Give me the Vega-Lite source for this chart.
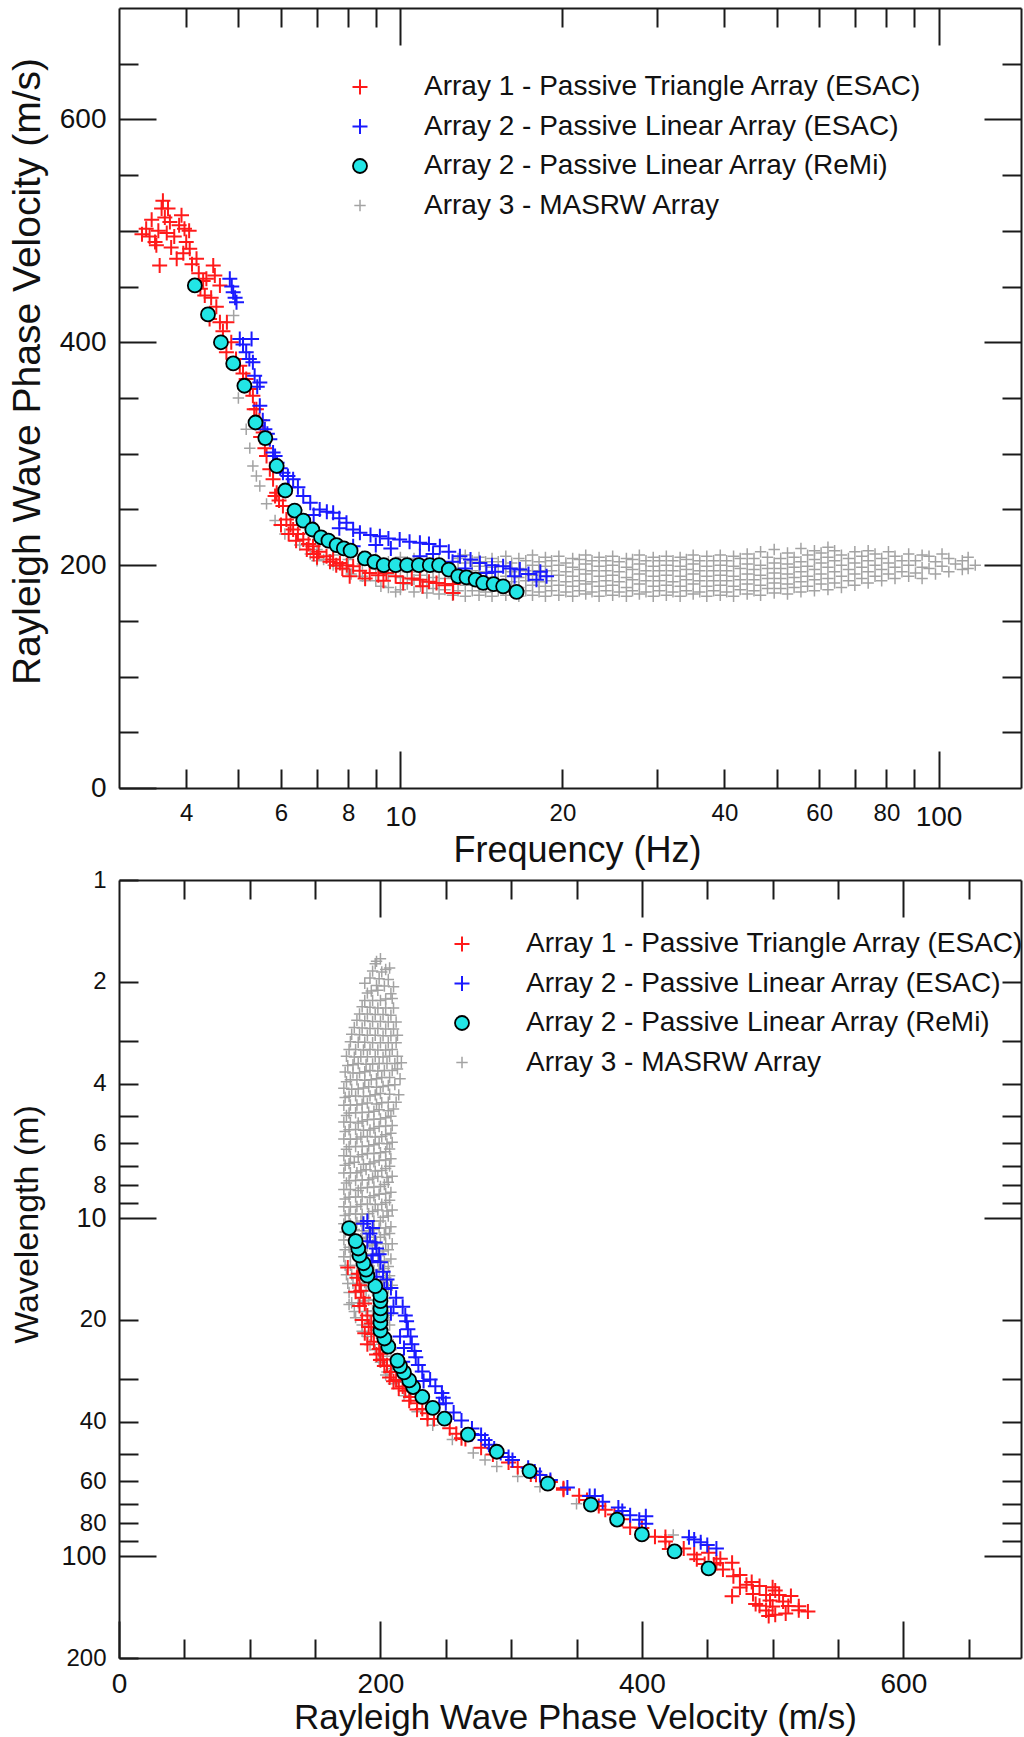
{
"$schema":"https://vega.github.io/schema/vega-lite/v6.json",
"autosize":{"type":"pad"},
"padding":{"left":8,"top":7,"right":0,"bottom":0},
"background":"white",
"spacing":92,
"bounds":"flush",
"config":{"view":{"stroke":null},"font":"Liberation Sans",
"axis":{"labelFont":"Liberation Sans","titleFont":"Liberation Sans","labelColor":"#111","titleColor":"#111","domainColor":"#1a1a1a","tickColor":"#1a1a1a","domainWidth":2,"tickWidth":2,"grid":false,"labelFlush":false,"labelOverlap":false,"labelBound":false,"titleFontWeight":"normal"},
"legend":{"labelFont":"Liberation Sans"}},
"resolve":{"scale":{"fill":"independent","stroke":"independent","shape":"independent","size":"independent","strokeWidth":"independent"}},
"datasets":{"d":[
{"s":"A3","f":4.9,"v":424,"w":86.5},{"s":"A3","f":5.0,"v":350,"w":70.0},{"s":"A3","f":5.17,"v":322,"w":62.3},{"s":"A3","f":5.25,"v":305,"w":58.1},{"s":"A3","f":5.32,"v":289,"w":54.3},{"s":"A3","f":5.4,"v":280,"w":51.9},{"s":"A3","f":5.48,"v":271,"w":49.5},{"s":"A3","f":5.64,"v":255,"w":45.2},{"s":"A3","f":5.85,"v":240,"w":41.0},{"s":"A3","f":6.1,"v":228,"w":37.4},{"s":"A3","f":6.5,"v":218,"w":33.5},{"s":"A3","f":6.8,"v":210,"w":30.9},{"s":"A3","f":7.2,"v":205,"w":28.5},{"s":"A3","f":7.6,"v":199,"w":26.2},{"s":"A3","f":8.1,"v":192,"w":23.7},{"s":"A3","f":8.6,"v":186,"w":21.6},{"s":"A3","f":9.2,"v":181,"w":19.7},{"s":"A3","f":9.8,"v":176,"w":18.0},
{"s":"A3","f":7.0,"v":204,"w":29.1},{"s":"A3","f":7.0,"v":214,"w":30.6},
{"s":"A3","f":7.5,"v":200,"w":26.7},{"s":"A3","f":7.5,"v":209,"w":27.9},
{"s":"A3","f":8.0,"v":196,"w":24.5},{"s":"A3","f":8.0,"v":205,"w":25.6},
{"s":"A3","f":8.5,"v":190,"w":22.4},{"s":"A3","f":8.5,"v":201,"w":23.6},{"s":"A3","f":8.5,"v":208,"w":24.5},
{"s":"A3","f":9.0,"v":186,"w":20.7},{"s":"A3","f":9.0,"v":197,"w":21.9},{"s":"A3","f":9.0,"v":206,"w":22.9},
{"s":"A3","f":9.5,"v":180,"w":18.9},{"s":"A3","f":9.5,"v":192,"w":20.2},{"s":"A3","f":9.5,"v":203,"w":21.4},
{"s":"A3","f":10,"v":178,"w":17.8},{"s":"A3","f":10,"v":189,"w":18.9},{"s":"A3","f":10,"v":199,"w":19.9},{"s":"A3","f":10,"v":207,"w":20.7},
{"s":"A3","f":10.3,"v":183,"w":17.8},{"s":"A3","f":10.3,"v":194,"w":18.8},{"s":"A3","f":10.3,"v":203,"w":19.7},
{"s":"A3","f":10.6,"v":176,"w":16.6},{"s":"A3","f":10.6,"v":187,"w":17.6},{"s":"A3","f":10.6,"v":198,"w":18.7},{"s":"A3","f":10.6,"v":206,"w":19.4},
{"s":"A3","f":10.9,"v":181,"w":16.6},{"s":"A3","f":10.9,"v":191,"w":17.5},{"s":"A3","f":10.9,"v":201,"w":18.4},
{"s":"A3","f":11.2,"v":175,"w":15.6},{"s":"A3","f":11.2,"v":185,"w":16.5},{"s":"A3","f":11.2,"v":195,"w":17.4},{"s":"A3","f":11.2,"v":205,"w":18.3},
{"s":"A3","f":11.5,"v":179,"w":15.6},{"s":"A3","f":11.5,"v":189,"w":16.4},{"s":"A3","f":11.5,"v":199,"w":17.3},
{"s":"A3","f":11.8,"v":174,"w":14.7},{"s":"A3","f":11.8,"v":184,"w":15.6},{"s":"A3","f":11.8,"v":194,"w":16.4},{"s":"A3","f":11.8,"v":204,"w":17.3},
{"s":"A3","f":12.1,"v":178,"w":14.7},{"s":"A3","f":12.1,"v":188,"w":15.5},{"s":"A3","f":12.1,"v":198,"w":16.4},
{"s":"A3","f":12.5,"v":173,"w":13.8},{"s":"A3","f":12.5,"v":183,"w":14.6},{"s":"A3","f":12.5,"v":193,"w":15.4},{"s":"A3","f":12.5,"v":203,"w":16.2},
{"s":"A3","f":12.8,"v":177,"w":13.8},{"s":"A3","f":12.8,"v":187,"w":14.6},{"s":"A3","f":12.8,"v":197,"w":15.4},{"s":"A3","f":12.8,"v":206,"w":16.1},
{"s":"A3","f":13.2,"v":172,"w":13.0},{"s":"A3","f":13.2,"v":182,"w":13.8},{"s":"A3","f":13.2,"v":192,"w":14.5},{"s":"A3","f":13.2,"v":202,"w":15.3},{"s":"A3","f":13.2,"v":209,"w":15.8},
{"s":"A3","f":13.6,"v":177,"w":13.0},{"s":"A3","f":13.6,"v":186,"w":13.7},{"s":"A3","f":13.6,"v":195,"w":14.3},{"s":"A3","f":13.6,"v":204,"w":15.0},
{"s":"A3","f":14.0,"v":173,"w":12.4},{"s":"A3","f":14.0,"v":181,"w":12.9},{"s":"A3","f":14.0,"v":190,"w":13.6},{"s":"A3","f":14.0,"v":199,"w":14.2},{"s":"A3","f":14.0,"v":207,"w":14.8},
{"s":"A3","f":14.4,"v":176,"w":12.2},{"s":"A3","f":14.4,"v":185,"w":12.8},{"s":"A3","f":14.4,"v":194,"w":13.5},{"s":"A3","f":14.4,"v":203,"w":14.1},
{"s":"A3","f":14.8,"v":172,"w":11.6},{"s":"A3","f":14.8,"v":180,"w":12.2},{"s":"A3","f":14.8,"v":189,"w":12.8},{"s":"A3","f":14.8,"v":198,"w":13.4},{"s":"A3","f":14.8,"v":206,"w":13.9},
{"s":"A3","f":15.2,"v":177,"w":11.6},{"s":"A3","f":15.2,"v":185,"w":12.2},{"s":"A3","f":15.2,"v":194,"w":12.8},{"s":"A3","f":15.2,"v":203,"w":13.4},
{"s":"A3","f":15.7,"v":173,"w":11.0},{"s":"A3","f":15.7,"v":181,"w":11.5},{"s":"A3","f":15.7,"v":190,"w":12.1},{"s":"A3","f":15.7,"v":199,"w":12.7},{"s":"A3","f":15.7,"v":208,"w":13.2},
{"s":"A3","f":16.1,"v":176,"w":10.9},{"s":"A3","f":16.1,"v":185,"w":11.5},{"s":"A3","f":16.1,"v":194,"w":12.0},{"s":"A3","f":16.1,"v":202,"w":12.5},
{"s":"A3","f":16.6,"v":172,"w":10.4},{"s":"A3","f":16.6,"v":180,"w":10.8},{"s":"A3","f":16.6,"v":189,"w":11.4},{"s":"A3","f":16.6,"v":197,"w":11.9},{"s":"A3","f":16.6,"v":206,"w":12.4},
{"s":"A3","f":17.1,"v":177,"w":10.4},{"s":"A3","f":17.1,"v":186,"w":10.9},{"s":"A3","f":17.1,"v":195,"w":11.4},{"s":"A3","f":17.1,"v":204,"w":11.9},
{"s":"A3","f":17.6,"v":173,"w":9.83},{"s":"A3","f":17.6,"v":182,"w":10.3},{"s":"A3","f":17.6,"v":191,"w":10.9},{"s":"A3","f":17.6,"v":200,"w":11.4},{"s":"A3","f":17.6,"v":209,"w":11.9},
{"s":"A3","f":18.1,"v":176,"w":9.72},{"s":"A3","f":18.1,"v":185,"w":10.2},{"s":"A3","f":18.1,"v":195,"w":10.8},{"s":"A3","f":18.1,"v":203,"w":11.2},
{"s":"A3","f":18.6,"v":172,"w":9.25},{"s":"A3","f":18.6,"v":181,"w":9.73},{"s":"A3","f":18.6,"v":190,"w":10.2},{"s":"A3","f":18.6,"v":199,"w":10.7},{"s":"A3","f":18.6,"v":207,"w":11.1},
{"s":"A3","f":19.1,"v":177,"w":9.27},{"s":"A3","f":19.1,"v":186,"w":9.74},{"s":"A3","f":19.1,"v":195,"w":10.2},{"s":"A3","f":19.1,"v":204,"w":10.7},
{"s":"A3","f":19.7,"v":173,"w":8.78},{"s":"A3","f":19.7,"v":182,"w":9.24},{"s":"A3","f":19.7,"v":191,"w":9.70},{"s":"A3","f":19.7,"v":200,"w":10.2},{"s":"A3","f":19.7,"v":208,"w":10.6},
{"s":"A3","f":20.3,"v":176,"w":8.67},{"s":"A3","f":20.3,"v":185,"w":9.11},{"s":"A3","f":20.3,"v":194,"w":9.56},{"s":"A3","f":20.3,"v":202,"w":9.95},
{"s":"A3","f":20.9,"v":172,"w":8.23},{"s":"A3","f":20.9,"v":181,"w":8.66},{"s":"A3","f":20.9,"v":190,"w":9.09},{"s":"A3","f":20.9,"v":198,"w":9.47},{"s":"A3","f":20.9,"v":206,"w":9.86},
{"s":"A3","f":21.5,"v":177,"w":8.23},{"s":"A3","f":21.5,"v":186,"w":8.65},{"s":"A3","f":21.5,"v":196,"w":9.12},{"s":"A3","f":21.5,"v":205,"w":9.53},
{"s":"A3","f":22.1,"v":174,"w":7.87},{"s":"A3","f":22.1,"v":183,"w":8.28},{"s":"A3","f":22.1,"v":192,"w":8.69},{"s":"A3","f":22.1,"v":201,"w":9.10},{"s":"A3","f":22.1,"v":209,"w":9.46},
{"s":"A3","f":22.7,"v":176,"w":7.75},{"s":"A3","f":22.7,"v":185,"w":8.15},{"s":"A3","f":22.7,"v":195,"w":8.59},{"s":"A3","f":22.7,"v":204,"w":8.99},
{"s":"A3","f":23.4,"v":172,"w":7.35},{"s":"A3","f":23.4,"v":181,"w":7.74},{"s":"A3","f":23.4,"v":190,"w":8.12},{"s":"A3","f":23.4,"v":199,"w":8.50},{"s":"A3","f":23.4,"v":207,"w":8.85},
{"s":"A3","f":24.1,"v":177,"w":7.34},{"s":"A3","f":24.1,"v":186,"w":7.72},{"s":"A3","f":24.1,"v":195,"w":8.09},{"s":"A3","f":24.1,"v":204,"w":8.46},
{"s":"A3","f":24.8,"v":173,"w":6.98},{"s":"A3","f":24.8,"v":182,"w":7.34},{"s":"A3","f":24.8,"v":191,"w":7.70},{"s":"A3","f":24.8,"v":200,"w":8.06},{"s":"A3","f":24.8,"v":208,"w":8.39},
{"s":"A3","f":25.5,"v":176,"w":6.90},{"s":"A3","f":25.5,"v":185,"w":7.25},{"s":"A3","f":25.5,"v":194,"w":7.61},{"s":"A3","f":25.5,"v":203,"w":7.96},
{"s":"A3","f":26.3,"v":172,"w":6.54},{"s":"A3","f":26.3,"v":180,"w":6.84},{"s":"A3","f":26.3,"v":189,"w":7.19},{"s":"A3","f":26.3,"v":198,"w":7.53},{"s":"A3","f":26.3,"v":206,"w":7.83},
{"s":"A3","f":27.0,"v":177,"w":6.56},{"s":"A3","f":27.0,"v":187,"w":6.93},{"s":"A3","f":27.0,"v":196,"w":7.26},{"s":"A3","f":27.0,"v":205,"w":7.59},
{"s":"A3","f":27.8,"v":174,"w":6.26},{"s":"A3","f":27.8,"v":183,"w":6.58},{"s":"A3","f":27.8,"v":192,"w":6.91},{"s":"A3","f":27.8,"v":201,"w":7.23},{"s":"A3","f":27.8,"v":209,"w":7.52},
{"s":"A3","f":28.6,"v":176,"w":6.15},{"s":"A3","f":28.6,"v":186,"w":6.50},{"s":"A3","f":28.6,"v":195,"w":6.82},{"s":"A3","f":28.6,"v":204,"w":7.13},
{"s":"A3","f":29.5,"v":172,"w":5.83},{"s":"A3","f":29.5,"v":181,"w":6.14},{"s":"A3","f":29.5,"v":190,"w":6.44},{"s":"A3","f":29.5,"v":199,"w":6.75},{"s":"A3","f":29.5,"v":207,"w":7.02},
{"s":"A3","f":30.3,"v":177,"w":5.84},{"s":"A3","f":30.3,"v":186,"w":6.14},{"s":"A3","f":30.3,"v":195,"w":6.44},{"s":"A3","f":30.3,"v":204,"w":6.73},
{"s":"A3","f":31.2,"v":173,"w":5.54},{"s":"A3","f":31.2,"v":182,"w":5.83},{"s":"A3","f":31.2,"v":191,"w":6.12},{"s":"A3","f":31.2,"v":200,"w":6.41},{"s":"A3","f":31.2,"v":208,"w":6.67},
{"s":"A3","f":32.1,"v":176,"w":5.48},{"s":"A3","f":32.1,"v":185,"w":5.76},{"s":"A3","f":32.1,"v":195,"w":6.07},{"s":"A3","f":32.1,"v":204,"w":6.36},
{"s":"A3","f":33.1,"v":172,"w":5.20},{"s":"A3","f":33.1,"v":181,"w":5.47},{"s":"A3","f":33.1,"v":190,"w":5.74},{"s":"A3","f":33.1,"v":199,"w":6.01},{"s":"A3","f":33.1,"v":207,"w":6.25},
{"s":"A3","f":34.0,"v":177,"w":5.21},{"s":"A3","f":34.0,"v":187,"w":5.50},{"s":"A3","f":34.0,"v":196,"w":5.76},{"s":"A3","f":34.0,"v":205,"w":6.03},
{"s":"A3","f":35.0,"v":174,"w":4.97},{"s":"A3","f":35.0,"v":183,"w":5.23},{"s":"A3","f":35.0,"v":192,"w":5.49},{"s":"A3","f":35.0,"v":201,"w":5.74},{"s":"A3","f":35.0,"v":209,"w":5.97},
{"s":"A3","f":36.0,"v":176,"w":4.89},{"s":"A3","f":36.0,"v":186,"w":5.17},{"s":"A3","f":36.0,"v":195,"w":5.42},{"s":"A3","f":36.0,"v":204,"w":5.67},
{"s":"A3","f":37.1,"v":172,"w":4.64},{"s":"A3","f":37.1,"v":181,"w":4.88},{"s":"A3","f":37.1,"v":190,"w":5.12},{"s":"A3","f":37.1,"v":199,"w":5.36},{"s":"A3","f":37.1,"v":208,"w":5.61},
{"s":"A3","f":38.2,"v":177,"w":4.63},{"s":"A3","f":38.2,"v":186,"w":4.87},{"s":"A3","f":38.2,"v":195,"w":5.10},{"s":"A3","f":38.2,"v":204,"w":5.34},
{"s":"A3","f":39.3,"v":173,"w":4.40},{"s":"A3","f":39.3,"v":182,"w":4.63},{"s":"A3","f":39.3,"v":191,"w":4.86},{"s":"A3","f":39.3,"v":200,"w":5.09},{"s":"A3","f":39.3,"v":209,"w":5.32},
{"s":"A3","f":40.4,"v":176,"w":4.36},{"s":"A3","f":40.4,"v":186,"w":4.60},{"s":"A3","f":40.4,"v":195,"w":4.83},{"s":"A3","f":40.4,"v":204,"w":5.05},
{"s":"A3","f":41.6,"v":172,"w":4.13},{"s":"A3","f":41.6,"v":181,"w":4.35},{"s":"A3","f":41.6,"v":190,"w":4.57},{"s":"A3","f":41.6,"v":199,"w":4.78},{"s":"A3","f":41.6,"v":208,"w":5.00},
{"s":"A3","f":42.8,"v":178,"w":4.16},{"s":"A3","f":42.8,"v":187,"w":4.37},{"s":"A3","f":42.8,"v":197,"w":4.60},{"s":"A3","f":42.8,"v":206,"w":4.81},
{"s":"A3","f":44.1,"v":174,"w":3.95},{"s":"A3","f":44.1,"v":183,"w":4.15},{"s":"A3","f":44.1,"v":192,"w":4.35},{"s":"A3","f":44.1,"v":201,"w":4.56},{"s":"A3","f":44.1,"v":210,"w":4.76},
{"s":"A3","f":45.4,"v":177,"w":3.90},{"s":"A3","f":45.4,"v":187,"w":4.12},{"s":"A3","f":45.4,"v":196,"w":4.32},{"s":"A3","f":45.4,"v":206,"w":4.54},
{"s":"A3","f":46.7,"v":173,"w":3.70},{"s":"A3","f":46.7,"v":182,"w":3.90},{"s":"A3","f":46.7,"v":191,"w":4.09},{"s":"A3","f":46.7,"v":200,"w":4.28},{"s":"A3","f":46.7,"v":212,"w":4.54},
{"s":"A3","f":48.1,"v":179,"w":3.72},{"s":"A3","f":48.1,"v":188,"w":3.91},{"s":"A3","f":48.1,"v":197,"w":4.10},{"s":"A3","f":48.1,"v":207,"w":4.30},
{"s":"A3","f":49.5,"v":175,"w":3.54},{"s":"A3","f":49.5,"v":184,"w":3.72},{"s":"A3","f":49.5,"v":193,"w":3.90},{"s":"A3","f":49.5,"v":202,"w":4.08},{"s":"A3","f":49.5,"v":214,"w":4.32},
{"s":"A3","f":50.9,"v":179,"w":3.52},{"s":"A3","f":50.9,"v":188,"w":3.69},{"s":"A3","f":50.9,"v":197,"w":3.87},{"s":"A3","f":50.9,"v":206,"w":4.05},
{"s":"A3","f":52.4,"v":174,"w":3.32},{"s":"A3","f":52.4,"v":183,"w":3.49},{"s":"A3","f":52.4,"v":192,"w":3.66},{"s":"A3","f":52.4,"v":201,"w":3.84},{"s":"A3","f":52.4,"v":211,"w":4.03},
{"s":"A3","f":53.9,"v":180,"w":3.34},{"s":"A3","f":53.9,"v":189,"w":3.51},{"s":"A3","f":53.9,"v":198,"w":3.67},{"s":"A3","f":53.9,"v":207,"w":3.84},
{"s":"A3","f":55.5,"v":176,"w":3.17},{"s":"A3","f":55.5,"v":185,"w":3.33},{"s":"A3","f":55.5,"v":194,"w":3.50},{"s":"A3","f":55.5,"v":203,"w":3.66},{"s":"A3","f":55.5,"v":215,"w":3.87},
{"s":"A3","f":57.1,"v":181,"w":3.17},{"s":"A3","f":57.1,"v":190,"w":3.33},{"s":"A3","f":57.1,"v":199,"w":3.49},{"s":"A3","f":57.1,"v":209,"w":3.66},
{"s":"A3","f":58.8,"v":177,"w":3.01},{"s":"A3","f":58.8,"v":187,"w":3.18},{"s":"A3","f":58.8,"v":196,"w":3.33},{"s":"A3","f":58.8,"v":205,"w":3.49},{"s":"A3","f":58.8,"v":213,"w":3.62},
{"s":"A3","f":60.5,"v":183,"w":3.02},{"s":"A3","f":60.5,"v":192,"w":3.17},{"s":"A3","f":60.5,"v":202,"w":3.34},{"s":"A3","f":60.5,"v":211,"w":3.49},
{"s":"A3","f":62.3,"v":178,"w":2.86},{"s":"A3","f":62.3,"v":188,"w":3.02},{"s":"A3","f":62.3,"v":198,"w":3.18},{"s":"A3","f":62.3,"v":207,"w":3.32},{"s":"A3","f":62.3,"v":216,"w":3.47},
{"s":"A3","f":64.1,"v":184,"w":2.87},{"s":"A3","f":64.1,"v":194,"w":3.03},{"s":"A3","f":64.1,"v":204,"w":3.18},{"s":"A3","f":64.1,"v":213,"w":3.32},
{"s":"A3","f":66.0,"v":180,"w":2.73},{"s":"A3","f":66.0,"v":190,"w":2.88},{"s":"A3","f":66.0,"v":200,"w":3.03},{"s":"A3","f":66.0,"v":209,"w":3.17},
{"s":"A3","f":68.0,"v":186,"w":2.74},{"s":"A3","f":68.0,"v":196,"w":2.88},{"s":"A3","f":68.0,"v":206,"w":3.03},
{"s":"A3","f":69.9,"v":182,"w":2.60},{"s":"A3","f":69.9,"v":192,"w":2.75},{"s":"A3","f":69.9,"v":202,"w":2.89},{"s":"A3","f":69.9,"v":212,"w":3.03},
{"s":"A3","f":72.0,"v":188,"w":2.61},{"s":"A3","f":72.0,"v":198,"w":2.75},{"s":"A3","f":72.0,"v":208,"w":2.89},
{"s":"A3","f":74.0,"v":184,"w":2.49},{"s":"A3","f":74.0,"v":194,"w":2.62},{"s":"A3","f":74.0,"v":204,"w":2.76},{"s":"A3","f":74.0,"v":213,"w":2.88},
{"s":"A3","f":76.2,"v":190,"w":2.49},{"s":"A3","f":76.2,"v":200,"w":2.62},{"s":"A3","f":76.2,"v":210,"w":2.76},
{"s":"A3","f":78.4,"v":186,"w":2.37},{"s":"A3","f":78.4,"v":196,"w":2.50},{"s":"A3","f":78.4,"v":206,"w":2.63},
{"s":"A3","f":80.7,"v":192,"w":2.38},{"s":"A3","f":80.7,"v":202,"w":2.50},{"s":"A3","f":80.7,"v":212,"w":2.63},
{"s":"A3","f":83.0,"v":188,"w":2.27},{"s":"A3","f":83.0,"v":198,"w":2.39},{"s":"A3","f":83.0,"v":208,"w":2.51},
{"s":"A3","f":85.5,"v":194,"w":2.27},{"s":"A3","f":85.5,"v":204,"w":2.39},
{"s":"A3","f":88.0,"v":190,"w":2.16},{"s":"A3","f":88.0,"v":200,"w":2.27},{"s":"A3","f":88.0,"v":210,"w":2.39},
{"s":"A3","f":90.6,"v":193,"w":2.13},{"s":"A3","f":90.6,"v":204,"w":2.25},
{"s":"A3","f":93.2,"v":188,"w":2.02},{"s":"A3","f":93.2,"v":198,"w":2.12},{"s":"A3","f":93.2,"v":209,"w":2.24},
{"s":"A3","f":96.0,"v":197,"w":2.05},{"s":"A3","f":96.0,"v":208,"w":2.17},
{"s":"A3","f":98.7,"v":192,"w":1.95},{"s":"A3","f":98.7,"v":203,"w":2.06},
{"s":"A3","f":101.5,"v":199,"w":1.96},{"s":"A3","f":101.5,"v":210,"w":2.07},
{"s":"A3","f":104.5,"v":194,"w":1.86},{"s":"A3","f":104.5,"v":206,"w":1.97},
{"s":"A3","f":107.5,"v":201,"w":1.87},
{"s":"A3","f":110.7,"v":196,"w":1.77},{"s":"A3","f":110.7,"v":204,"w":1.84},
{"s":"A3","f":113.5,"v":197,"w":1.74},{"s":"A3","f":113.5,"v":207,"w":1.82},
{"s":"A3","f":117.0,"v":200,"w":1.71},
{"s":"A1","f":3.31,"v":497,"w":150.2},{"s":"A1","f":3.37,"v":502,"w":149.0},{"s":"A1","f":3.42,"v":495,"w":144.7},{"s":"A1","f":3.45,"v":510,"w":147.8},{"s":"A1","f":3.50,"v":490,"w":140.0},{"s":"A1","f":3.52,"v":487,"w":138.4},{"s":"A1","f":3.55,"v":500,"w":140.8},{"s":"A1","f":3.57,"v":469,"w":131.4},{"s":"A1","f":3.60,"v":520,"w":144.4},{"s":"A1","f":3.62,"v":527,"w":145.6},{"s":"A1","f":3.65,"v":512,"w":140.3},{"s":"A1","f":3.68,"v":498,"w":135.3},{"s":"A1","f":3.70,"v":520,"w":140.5},{"s":"A1","f":3.73,"v":508,"w":136.2},{"s":"A1","f":3.75,"v":485,"w":129.3},{"s":"A1","f":3.80,"v":495,"w":130.3},{"s":"A1","f":3.84,"v":475,"w":123.7},{"s":"A1","f":3.88,"v":505,"w":130.2},{"s":"A1","f":3.92,"v":514,"w":131.1},{"s":"A1","f":3.95,"v":480,"w":121.5},{"s":"A1","f":3.97,"v":502,"w":126.4},{"s":"A1","f":4.00,"v":490,"w":122.5},{"s":"A1","f":4.05,"v":500,"w":123.5},{"s":"A1","f":4.06,"v":484,"w":119.2},{"s":"A1","f":4.10,"v":470,"w":114.6},{"s":"A1","f":4.18,"v":475,"w":113.6},{"s":"A1","f":4.22,"v":462,"w":109.5},{"s":"A1","f":4.25,"v":448,"w":105.4},{"s":"A1","f":4.30,"v":455,"w":105.8},{"s":"A1","f":4.33,"v":442,"w":102.1},{"s":"A1","f":4.36,"v":457,"w":104.8},{"s":"A1","f":4.42,"v":421,"w":95.2},{"s":"A1","f":4.45,"v":440,"w":98.9},{"s":"A1","f":4.49,"v":469,"w":104.5},{"s":"A1","f":4.52,"v":460,"w":101.8},{"s":"A1","f":4.55,"v":432,"w":94.9},{"s":"A1","f":4.62,"v":451,"w":97.6},{"s":"A1","f":4.62,"v":418,"w":90.5},{"s":"A1","f":4.68,"v":410,"w":87.6},{"s":"A1","f":4.76,"v":418,"w":87.8},{"s":"A1","f":4.75,"v":391,"w":82.3},{"s":"A1","f":4.85,"v":400,"w":82.5},{"s":"A1","f":4.95,"v":385,"w":77.8},{"s":"A1","f":5.03,"v":379,"w":75.3},{"s":"A1","f":5.10,"v":372,"w":72.9},{"s":"A1","f":5.17,"v":367,"w":71.0},{"s":"A1","f":5.25,"v":358,"w":68.2},{"s":"A1","f":5.32,"v":352,"w":66.2},{"s":"A1","f":5.35,"v":340,"w":63.6},{"s":"A1","f":5.40,"v":340,"w":63.0},{"s":"A1","f":5.47,"v":330,"w":60.3},{"s":"A1","f":5.50,"v":315,"w":57.3},{"s":"A1","f":5.56,"v":319,"w":57.4},{"s":"A1","f":5.60,"v":305,"w":54.5},{"s":"A1","f":5.64,"v":298,"w":52.8},{"s":"A1","f":5.72,"v":286,"w":50.0},{"s":"A1","f":5.80,"v":277,"w":47.8},{"s":"A1","f":5.85,"v":262,"w":44.8},{"s":"A1","f":5.89,"v":265,"w":45.0},{"s":"A1","f":5.95,"v":258,"w":43.4},{"s":"A1","f":6.00,"v":236,"w":39.3},{"s":"A1","f":6.05,"v":253,"w":41.8},{"s":"A1","f":6.14,"v":241,"w":39.3},{"s":"A1","f":6.20,"v":228,"w":36.8},{"s":"A1","f":6.25,"v":236,"w":37.8},{"s":"A1","f":6.32,"v":232,"w":36.7},{"s":"A1","f":6.40,"v":222,"w":34.7},{"s":"A1","f":6.45,"v":228,"w":35.3},{"s":"A1","f":6.60,"v":223,"w":33.8},{"s":"A1","f":6.70,"v":214,"w":31.9},{"s":"A1","f":6.75,"v":219,"w":32.4},{"s":"A1","f":6.88,"v":217,"w":31.5},{"s":"A1","f":6.90,"v":210,"w":30.4},{"s":"A1","f":7.00,"v":207,"w":29.6},{"s":"A1","f":7.05,"v":212,"w":30.1},{"s":"A1","f":7.29,"v":208,"w":28.5},{"s":"A1","f":7.40,"v":203,"w":27.4},{"s":"A1","f":7.50,"v":205,"w":27.3},{"s":"A1","f":7.60,"v":200,"w":26.3},{"s":"A1","f":7.72,"v":202,"w":26.2},{"s":"A1","f":7.80,"v":197,"w":25.3},{"s":"A1","f":7.95,"v":200,"w":25.2},{"s":"A1","f":8.05,"v":190,"w":23.6},{"s":"A1","f":8.17,"v":199,"w":24.4},{"s":"A1","f":8.40,"v":195,"w":23.2},{"s":"A1","f":8.60,"v":188,"w":21.9},{"s":"A1","f":8.77,"v":193,"w":22.0},{"s":"A1","f":9.10,"v":191,"w":21.0},{"s":"A1","f":9.30,"v":186,"w":20.0},{"s":"A1","f":9.42,"v":193,"w":20.5},{"s":"A1","f":9.80,"v":190,"w":19.4},{"s":"A1","f":10.12,"v":184,"w":18.2},{"s":"A1","f":10.50,"v":188,"w":17.9},{"s":"A1","f":10.87,"v":187,"w":17.2},{"s":"A1","f":11.00,"v":181,"w":16.5},{"s":"A1","f":11.30,"v":185,"w":16.4},{"s":"A1","f":11.67,"v":184,"w":15.8},{"s":"A1","f":12.10,"v":182,"w":15.0},{"s":"A1","f":12.53,"v":175,"w":14.0},{"s":"A1","f":12.53,"v":183,"w":14.6},
{"s":"A2E","f":4.82,"v":457,"w":94.8},{"s":"A2E","f":4.86,"v":450,"w":92.6},{"s":"A2E","f":4.89,"v":445,"w":91.0},{"s":"A2E","f":4.93,"v":440,"w":89.2},{"s":"A2E","f":4.96,"v":436,"w":87.9},{"s":"A2E","f":5.03,"v":403,"w":80.1},{"s":"A2E","f":5.10,"v":398,"w":78.0},{"s":"A2E","f":5.17,"v":391,"w":75.6},{"s":"A2E","f":5.24,"v":385,"w":73.5},{"s":"A2E","f":5.29,"v":403,"w":76.2},{"s":"A2E","f":5.32,"v":382,"w":71.8},{"s":"A2E","f":5.36,"v":370,"w":69.0},{"s":"A2E","f":5.42,"v":360,"w":66.4},{"s":"A2E","f":5.48,"v":364,"w":66.4},{"s":"A2E","f":5.48,"v":343,"w":62.6},{"s":"A2E","f":5.55,"v":330,"w":59.5},{"s":"A2E","f":5.60,"v":322,"w":57.5},{"s":"A2E","f":5.66,"v":318,"w":56.2},{"s":"A2E","f":5.72,"v":313,"w":54.7},{"s":"A2E","f":5.80,"v":301,"w":51.9},{"s":"A2E","f":5.85,"v":298,"w":50.9},{"s":"A2E","f":5.90,"v":292,"w":49.5},{"s":"A2E","f":5.98,"v":287,"w":48.0},{"s":"A2E","f":6.05,"v":283,"w":46.8},{"s":"A2E","f":6.18,"v":280,"w":45.3},{"s":"A2E","f":6.20,"v":270,"w":43.5},{"s":"A2E","f":6.32,"v":277,"w":43.8},{"s":"A2E","f":6.45,"v":270,"w":41.9},{"s":"A2E","f":6.60,"v":262,"w":39.7},{"s":"A2E","f":6.80,"v":256,"w":37.6},{"s":"A2E","f":6.90,"v":245,"w":35.5},{"s":"A2E","f":7.08,"v":250,"w":35.3},{"s":"A2E","f":7.30,"v":248,"w":34.0},{"s":"A2E","f":7.50,"v":247,"w":32.9},{"s":"A2E","f":7.70,"v":233,"w":30.3},{"s":"A2E","f":7.70,"v":242,"w":31.4},{"s":"A2E","f":7.94,"v":238,"w":30.0},{"s":"A2E","f":8.17,"v":232,"w":28.4},{"s":"A2E","f":8.17,"v":217,"w":26.6},{"s":"A2E","f":8.41,"v":229,"w":27.2},{"s":"A2E","f":8.80,"v":227,"w":25.8},{"s":"A2E","f":9.00,"v":218,"w":24.2},{"s":"A2E","f":9.16,"v":226,"w":24.7},{"s":"A2E","f":9.50,"v":224,"w":23.6},{"s":"A2E","f":9.60,"v":215,"w":22.4},{"s":"A2E","f":9.97,"v":223,"w":22.4},{"s":"A2E","f":10.40,"v":221,"w":21.3},{"s":"A2E","f":10.87,"v":220,"w":20.2},{"s":"A2E","f":10.87,"v":208,"w":19.1},{"s":"A2E","f":11.30,"v":219,"w":19.4},{"s":"A2E","f":11.50,"v":210,"w":18.3},{"s":"A2E","f":11.84,"v":217,"w":18.3},{"s":"A2E","f":12.30,"v":212,"w":17.2},{"s":"A2E","f":12.50,"v":203,"w":16.2},{"s":"A2E","f":12.90,"v":208,"w":16.1},{"s":"A2E","f":13.20,"v":197,"w":14.9},{"s":"A2E","f":13.50,"v":205,"w":15.2},{"s":"A2E","f":14.05,"v":202,"w":14.4},{"s":"A2E","f":14.45,"v":193,"w":13.4},{"s":"A2E","f":14.80,"v":200,"w":13.5},{"s":"A2E","f":15.00,"v":194,"w":12.9},{"s":"A2E","f":15.52,"v":199,"w":12.8},{"s":"A2E","f":16.00,"v":197,"w":12.3},{"s":"A2E","f":16.30,"v":190,"w":11.7},{"s":"A2E","f":16.67,"v":196,"w":11.8},{"s":"A2E","f":17.30,"v":192,"w":11.1},{"s":"A2E","f":17.90,"v":187,"w":10.4},{"s":"A2E","f":18.20,"v":194,"w":10.7},{"s":"A2E","f":18.69,"v":190,"w":10.2},
{"s":"A2R","f":4.15,"v":451,"w":108.7},{"s":"A2R","f":4.39,"v":425,"w":96.8},{"s":"A2R","f":4.64,"v":400,"w":86.2},{"s":"A2R","f":4.89,"v":381,"w":77.9},{"s":"A2R","f":5.13,"v":361,"w":70.4},{"s":"A2R","f":5.38,"v":328,"w":61.0},{"s":"A2R","f":5.61,"v":314,"w":56.0},{"s":"A2R","f":5.89,"v":289,"w":49.1},{"s":"A2R","f":6.11,"v":267,"w":43.7},{"s":"A2R","f":6.36,"v":249,"w":39.2},{"s":"A2R","f":6.60,"v":240,"w":36.4},{"s":"A2R","f":6.86,"v":232,"w":33.8},{"s":"A2R","f":7.12,"v":225,"w":31.6},{"s":"A2R","f":7.35,"v":222,"w":30.2},{"s":"A2R","f":7.61,"v":218,"w":28.6},{"s":"A2R","f":7.85,"v":215,"w":27.4},{"s":"A2R","f":8.08,"v":213,"w":26.4},{"s":"A2R","f":8.59,"v":206,"w":24.0},{"s":"A2R","f":8.95,"v":203,"w":22.7},{"s":"A2R","f":9.31,"v":200,"w":21.5},{"s":"A2R","f":9.80,"v":200,"w":20.4},{"s":"A2R","f":10.29,"v":200,"w":19.4},{"s":"A2R","f":10.82,"v":200,"w":18.5},{"s":"A2R","f":11.34,"v":200,"w":17.6},{"s":"A2R","f":11.80,"v":200,"w":16.9},{"s":"A2R","f":12.30,"v":196,"w":15.9},{"s":"A2R","f":12.80,"v":190,"w":14.8},{"s":"A2R","f":13.27,"v":189,"w":14.2},{"s":"A2R","f":13.80,"v":187,"w":13.6},{"s":"A2R","f":14.25,"v":184,"w":12.9},{"s":"A2R","f":14.90,"v":183,"w":12.3},{"s":"A2R","f":15.52,"v":181,"w":11.7},{"s":"A2R","f":16.44,"v":176,"w":10.7}
]},
"vconcat":[
{"width":902,"height":780,"data":{"name":"d"},
"resolve":{"axis":{"x":"independent","y":"independent"}},
"layer":[
{"mark":{"type":"point","filled":true,"opacity":1},
"encoding":{
"x":{"field":"f","type":"quantitative","scale":{"type":"log","domain":[3,142.3],"nice":false},
"axis":{"orient":"bottom","values":[4,6,8,20,40,60,80],"format":"d","tickSize":-19,"labelPadding":32,"labelFontSize":24,"domain":true,"title":"Frequency (Hz)","titleFontSize":36,"titleX":458,"titleY":73,"titleAlign":"center","titleBaseline":"alphabetic"}},
"y":{"field":"v","type":"quantitative","scale":{"domain":[0,700],"nice":false,"zero":false},
"axis":{"orient":"left","values":[0,200,400,600],"tickSize":-37,"labelPadding":50,"labelFontSize":28,"domain":true,"title":"Rayleigh Wave Phase Velocity (m/s)","titleFontSize":39,"titleX":-92,"titleY":363,"titleAngle":-90,"titleAlign":"center","titleBaseline":"middle"}},
"fill":{"field":"s","type":"nominal","scale":{"domain":["A1","A2E","A2R","A3"],"range":["#ff1a1a","#1a1aff","#22e6e6","#a3a3a3"]},
"legend":{"orient":"none","legendX":227,"legendY":65,"title":null,"labelFontSize":28,"labelColor":"#111","labelOffset":50,"rowPadding":11.5,"labelLimit":900,
"labelExpr":"datum.label == 'A1' ? 'Array 1 - Passive Triangle Array (ESAC)' : datum.label == 'A2E' ? 'Array 2 - Passive Linear Array (ESAC)' : datum.label == 'A2R' ? 'Array 2 - Passive Linear Array (ReMi)' : 'Array 3 - MASRW Array'"}},
"stroke":{"field":"s","type":"nominal","scale":{"domain":["A1","A2E","A2R","A3"],"range":["#ff1a1a","#1a1aff","#000000","#a3a3a3"]}},
"shape":{"field":"s","type":"nominal","scale":{"domain":["A1","A2E","A2R","A3"],"range":["M-1,0H1M0,-1V1","M-1,0H1M0,-1V1","circle","M-1,0H1M0,-1V1"]}},
"size":{"field":"s","type":"nominal","scale":{"type":"ordinal","domain":["A1","A2E","A2R","A3"],"range":[225,225,196,130]}},
"strokeWidth":{"field":"s","type":"nominal","scale":{"type":"ordinal","domain":["A1","A2E","A2R","A3"],"range":[2,2,1.8,1.5]}}
}},
{"transform":[{"filter":"datum.s == 'A2R'"}],"mark":{"type":"point","opacity":0},
"encoding":{
"x":{"field":"f","type":"quantitative","axis":{"orient":"bottom","values":[5,7,9,30,50,70,90],"tickSize":-19,"labels":false,"domain":false,"title":null}},
"y":{"field":"v","type":"quantitative","axis":{"orient":"left","values":[50,100,150,250,300,350,450,500,550,650],"tickSize":-19,"labels":false,"domain":false,"title":null}}}},
{"transform":[{"filter":"datum.s == 'A2R'"}],"mark":{"type":"point","opacity":0},
"encoding":{
"x":{"field":"f","type":"quantitative","axis":{"orient":"bottom","values":[10,100],"format":"d","tickSize":-37,"labelPadding":52,"labelFontSize":28,"domain":false,"title":null}},
"y":{"field":"v","type":"quantitative","axis":{"orient":"right","values":[200,400,600],"tickSize":-37,"labels":false,"domain":true,"title":null}}}},
{"transform":[{"filter":"datum.s == 'A2R'"}],"mark":{"type":"point","opacity":0},
"encoding":{
"x":{"field":"f","type":"quantitative","axis":{"orient":"top","values":[4,5,6,7,8,9,20,30,40,50,60,70,80,90],"tickSize":-19,"labels":false,"domain":true,"title":null}},
"y":{"field":"v","type":"quantitative","axis":{"orient":"right","values":[50,100,150,250,300,350,450,500,550,650],"tickSize":-19,"labels":false,"domain":false,"title":null}}}},
{"transform":[{"filter":"datum.s == 'A2R'"}],"mark":{"type":"point","opacity":0},
"encoding":{
"x":{"field":"f","type":"quantitative","axis":{"orient":"top","values":[10,100],"tickSize":-37,"labels":false,"domain":false,"title":null}},
"y":{"field":"v","type":"quantitative","axis":null}}}
]},
{"width":902,"height":778,"data":{"name":"d"},
"resolve":{"axis":{"x":"independent","y":"independent"}},
"layer":[
{"mark":{"type":"point","filled":true,"opacity":1},
"encoding":{
"x":{"field":"v","type":"quantitative","scale":{"domain":[0,690],"nice":false},
"axis":{"orient":"bottom","values":[0,200,400,600],"tickSize":-37,"labelPadding":49,"labelFontSize":28,"domain":true,"title":"Rayleigh Wave Phase Velocity (m/s)","titleFontSize":35,"titleX":456,"titleY":70.5,"titleAlign":"center","titleBaseline":"alphabetic"}},
"y":{"field":"w","type":"quantitative","scale":{"type":"log","domain":[1,200],"reverse":true,"nice":false},
"axis":{"orient":"left","values":[1,2,4,6,8,20,40,60,80,200],"format":"d","tickSize":-19,"labelPadding":32,"labelFontSize":24,"domain":true,"title":"Wavelength (m)","titleFontSize":34,"titleX":-92,"titleY":344,"titleAngle":-90,"titleAlign":"center","titleBaseline":"middle"}},
"fill":{"field":"s","type":"nominal","scale":{"domain":["A1","A2E","A2R","A3"],"range":["#ff1a1a","#1a1aff","#22e6e6","#a3a3a3"]},
"legend":{"orient":"none","legendX":329,"legendY":50,"title":null,"labelFontSize":28,"labelColor":"#111","labelOffset":50,"rowPadding":11.5,"labelLimit":900,
"labelExpr":"datum.label == 'A1' ? 'Array 1 - Passive Triangle Array (ESAC)' : datum.label == 'A2E' ? 'Array 2 - Passive Linear Array (ESAC)' : datum.label == 'A2R' ? 'Array 2 - Passive Linear Array (ReMi)' : 'Array 3 - MASRW Array'"}},
"stroke":{"field":"s","type":"nominal","scale":{"domain":["A1","A2E","A2R","A3"],"range":["#ff1a1a","#1a1aff","#000000","#a3a3a3"]}},
"shape":{"field":"s","type":"nominal","scale":{"domain":["A1","A2E","A2R","A3"],"range":["M-1,0H1M0,-1V1","M-1,0H1M0,-1V1","circle","M-1,0H1M0,-1V1"]}},
"size":{"field":"s","type":"nominal","scale":{"type":"ordinal","domain":["A1","A2E","A2R","A3"],"range":[225,225,196,130]}},
"strokeWidth":{"field":"s","type":"nominal","scale":{"type":"ordinal","domain":["A1","A2E","A2R","A3"],"range":[2,2,1.8,1.5]}}
}},
{"transform":[{"filter":"datum.s == 'A2R'"}],"mark":{"type":"point","opacity":0},
"encoding":{
"x":{"field":"v","type":"quantitative","axis":{"orient":"bottom","values":[50,100,150,250,300,350,450,500,550,650],"tickSize":-19,"labels":false,"domain":false,"title":null}},
"y":{"field":"w","type":"quantitative","axis":{"orient":"left","values":[3,5,7,9,30,50,70,90],"tickSize":-19,"labels":false,"domain":false,"title":null}}}},
{"transform":[{"filter":"datum.s == 'A2R'"}],"mark":{"type":"point","opacity":0},
"encoding":{
"x":{"field":"v","type":"quantitative","axis":{"orient":"top","values":[200,400,600],"tickSize":-37,"labels":false,"domain":true,"title":null}},
"y":{"field":"w","type":"quantitative","axis":{"orient":"left","values":[10,100],"format":"d","tickSize":-37,"labelPadding":50,"labelFontSize":27,"domain":false,"title":null}}}},
{"transform":[{"filter":"datum.s == 'A2R'"}],"mark":{"type":"point","opacity":0},
"encoding":{
"x":{"field":"v","type":"quantitative","axis":{"orient":"top","values":[50,100,150,250,300,350,450,500,550,650],"tickSize":-19,"labels":false,"domain":false,"title":null}},
"y":{"field":"w","type":"quantitative","axis":{"orient":"right","values":[10,100],"tickSize":-37,"labels":false,"domain":true,"title":null}}}},
{"transform":[{"filter":"datum.s == 'A2R'"}],"mark":{"type":"point","opacity":0},
"encoding":{
"x":{"field":"v","type":"quantitative","axis":null},
"y":{"field":"w","type":"quantitative","axis":{"orient":"right","values":[2,3,4,5,6,7,8,9,20,30,40,50,60,70,80,90],"tickSize":-19,"labels":false,"domain":false,"title":null}}}}
]}
]
}
